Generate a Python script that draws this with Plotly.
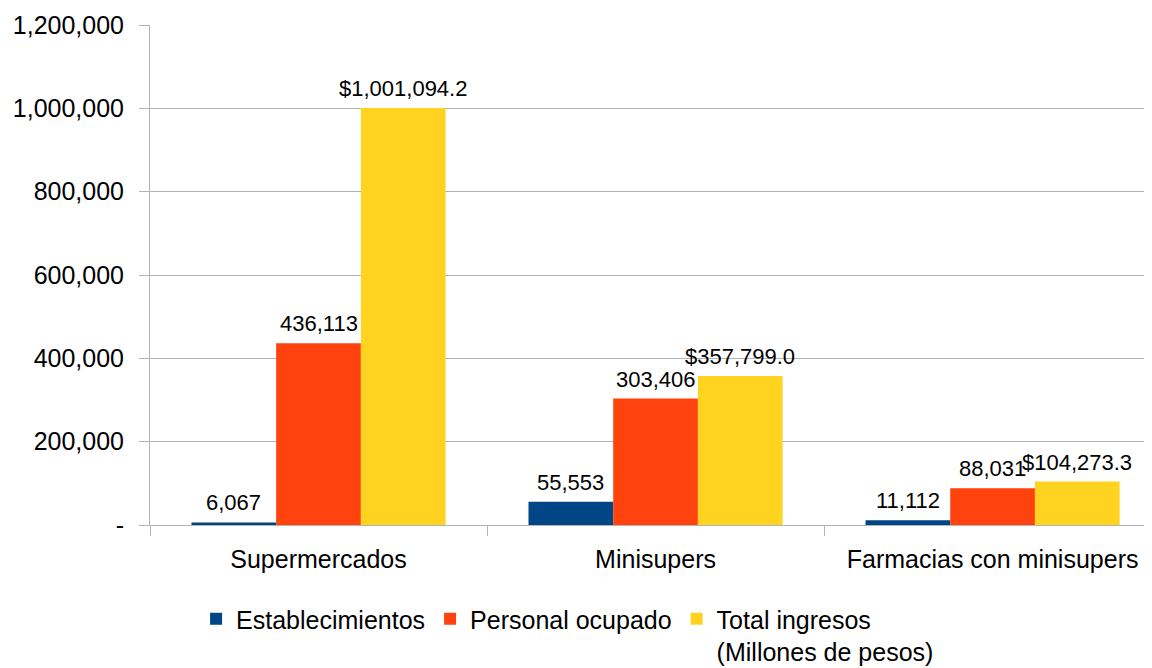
import plotly.graph_objects as go

categories = ["Supermercados", "Minisupers", "Farmacias con minisupers"]
establecimientos = [6067, 55553, 11112]
personal_ocupado = [436113, 303406, 88031]
total_ingresos = [1001094.2, 357799.0, 104273.3]

series_names = ["Establecimientos", "Personal ocupado", "Total ingresos<br>(Millones de pesos)"]
colors = ["#004586", "#ff420e", "#ffd320"]

y_tickvals = [0, 200000, 400000, 600000, 800000, 1000000, 1200000]
y_ticktext = ["-", "200,000", "400,000", "600,000", "800,000", "1,000,000", "1,200,000"]

FONT = "Liberation Sans, Arial, sans-serif"
BARGAP = 0.246

series = [establecimientos, personal_ocupado, total_ingresos]
labels = [
    [f"{v:,}" for v in establecimientos],
    [f"{v:,}" for v in personal_ocupado],
    [f"${v:,.1f}" for v in total_ingresos],
]

fig = go.Figure()
for name, vals, col in zip(series_names, series, colors):
    fig.add_trace(go.Bar(x=categories, y=vals, name=name, marker_color=col,
                         marker_line_width=0))

# data labels as annotations above each bar
w = (1 - BARGAP) / 3
annotations = []
for j, (vals, labs) in enumerate(zip(series, labels)):
    for i, (v, t) in enumerate(zip(vals, labs)):
        annotations.append(dict(
            x=i + (j - 1) * w, y=v, xref="x", yref="y", text=t,
            showarrow=False, yanchor="bottom", xanchor="center", yshift=5,
            font=dict(size=22, color="black", family=FONT)))

fig.update_layout(
    width=1144, height=660,
    paper_bgcolor="white", plot_bgcolor="white",
    font=dict(family=FONT, size=25, color="black"),
    margin=dict(l=142, r=0, t=17, b=143, autoexpand=False),
    barmode="group", bargap=BARGAP, bargroupgap=0,
    annotations=annotations,
    legend=dict(orientation="h", x=0.046, xanchor="left", y=-0.142, yanchor="top",
                font=dict(size=25), traceorder="normal", valign="top"),
    showlegend=True,
)
fig.update_xaxes(
    type="category", tickson="boundaries", ticks="outside", ticklen=10,
    tickcolor="#b3b3b3", showline=True, linecolor="#b3b3b3", linewidth=1,
    showgrid=False, tickfont=dict(size=25), ticklabelstandoff=12,
    range=[-0.5, 2.473], automargin=False,
)
fig.update_yaxes(
    range=[0, 1200000], tickvals=y_tickvals, ticktext=y_ticktext,
    ticks="outside", ticklen=10, tickcolor="#b3b3b3",
    showgrid=True, gridcolor="#b3b3b3", gridwidth=1,
    showline=True, linecolor="#b3b3b3", zeroline=False,
    tickfont=dict(size=25), ticklabelstandoff=10, automargin=False,
)

fig.write_html("out.html")
